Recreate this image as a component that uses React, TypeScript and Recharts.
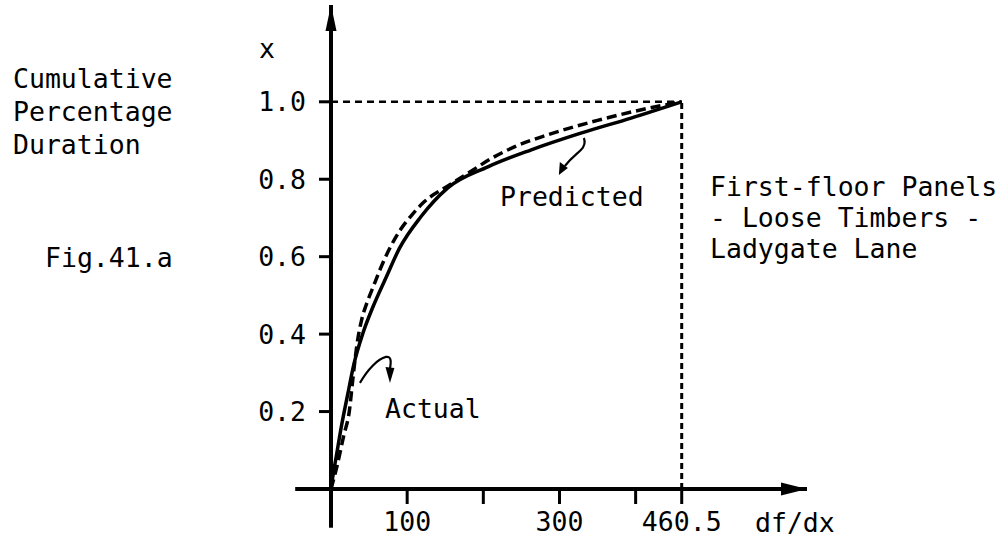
import React from 'react';
import { LineChart, Line, XAxis, YAxis, ReferenceLine, ReferenceDot } from 'recharts';

// ---- data ----
const predictedX = [0, 3, 7, 13, 22, 30, 42, 55, 72, 90, 118, 153, 206, 263, 328, 394, 460.5];
const predictedY = [0, 0.04, 0.085, 0.155, 0.245, 0.322, 0.403, 0.47, 0.545, 0.622, 0.703, 0.777, 0.832, 0.876, 0.919, 0.958, 1.0];

const actualX = [0, 8, 17, 24, 29, 35, 40, 47, 55, 64, 78, 92, 105, 122, 153, 185, 210, 240, 285, 350, 416, 460.5];
const actualY = [0, 0.06, 0.14, 0.2, 0.29, 0.385, 0.435, 0.48, 0.52, 0.565, 0.625, 0.672, 0.705, 0.741, 0.782, 0.822, 0.853, 0.883, 0.915, 0.952, 0.983, 1.0];

const xTicks = [100, 200, 300, 400, 460.5];
const xTickLabels = ['100', '', '300', '', '460.5'];
const yTicks = [0.2, 0.4, 0.6, 0.8, 1.0];
const yTickLabels = ['0.2', '0.4', '0.6', '0.8', '1.0'];

const xMax = 460.5;
const yMax = 1.0;

const titleLines = ['First-floor Panels', '- Loose Timbers -', 'Ladygate Lane'];
const yNameLines = ['Cumulative', 'Percentage', 'Duration'];
const figLabel = 'Fig.41.a';
const xName = 'df/dx';
const yName = 'x';
const predictedLabel = 'Predicted';
const actualLabel = 'Actual';

const predictedData = predictedX.map((x, i) => ({ x, y: predictedY[i] }));
const actualData = actualX.map((x, i) => ({ x, y: actualY[i] }));

const FONT = '"DejaVu Sans Mono", monospace';
const FS = 26.5;

const UpArrow = (props: any) => {
  const { cx, cy } = props;
  return <path d={`M ${cx} ${cy} L ${cx - 5.5} ${cy + 26} L ${cx + 5.5} ${cy + 26} Z`} fill="#000" />;
};
const RightArrow = (props: any) => {
  const { cx, cy } = props;
  return <path d={`M ${cx} ${cy} L ${cx - 26} ${cy - 6.5} L ${cx - 26} ${cy + 6.5} Z`} fill="#000" />;
};
const PredArrow = (props: any) => {
  const { cx, cy } = props;
  return (
    <g>
      <path d={`M ${cx} ${cy} C ${cx + 2} ${cy + 5}, ${cx} ${cy + 9}, ${cx - 3} ${cy + 12} C ${cx - 7} ${cy + 16}, ${cx - 12} ${cy + 19}, ${cx - 19} ${cy + 28}`} stroke="#000" strokeWidth={2.2} fill="none" />
      <path d={`M ${cx - 25} ${cy + 37} L ${cx - 24} ${cy + 24} L ${cx - 16} ${cy + 30} Z`} fill="#000" />
    </g>
  );
};
const ActArrow = (props: any) => {
  const { cx, cy } = props;
  return (
    <g>
      <path d={`M ${cx} ${cy} C ${cx + 8} ${cy - 14}, ${cx + 18} ${cy - 24}, ${cx + 26} ${cy - 26} C ${cx + 32} ${cy - 27}, ${cx + 31} ${cy - 20}, ${cx + 30} ${cy - 14}`} stroke="#000" strokeWidth={2.2} fill="none" />
      <path d={`M ${cx + 30} ${cy} L ${cx + 25.5} ${cy - 16} L ${cx + 34.5} ${cy - 15} Z`} fill="#000" />
    </g>
  );
};

export default function App() {
  return (
    <div style={{ position: 'absolute', left: 0, top: 0, width: 1006, height: 544, background: '#fff' }}>
      <LineChart
        width={1006}
        height={544}
        margin={{ top: 5, right: 199, bottom: 15, left: 0 }}
      >
        <XAxis
          type="number"
          dataKey="x"
          domain={[0, 625]}
          allowDataOverflow
          ticks={xTicks}
          interval={0}
          tickFormatter={(v: number) => xTickLabels[xTicks.indexOf(v)] ?? ''}
          axisLine={{ stroke: '#000', strokeWidth: 4 }}
          tickLine={{ stroke: '#000', strokeWidth: 3 }}
          tickSize={15}
          tickMargin={8}
          height={40}
          tick={{ fill: '#000', fontSize: FS, fontFamily: FONT }}
        />
        <YAxis
          type="number"
          dataKey="y"
          domain={[0, 1.25]}
          allowDataOverflow
          ticks={yTicks}
          interval={0}
          tickFormatter={(v: number) => yTickLabels[yTicks.indexOf(v)] ?? ''}
          axisLine={{ stroke: '#000', strokeWidth: 4 }}
          tickLine={{ stroke: '#000', strokeWidth: 3 }}
          tickSize={12}
          tickMargin={13}
          width={331}
          tick={{ fill: '#000', fontSize: FS, fontFamily: FONT }}
        />
        <ReferenceLine
          segment={[{ x: -47, y: 0 }, { x: 0, y: 0 }]}
          stroke="#000"
          strokeWidth={4}
          ifOverflow="visible"
        />
        <ReferenceLine
          segment={[{ x: 0, y: 0 }, { x: 0, y: -0.1 }]}
          stroke="#000"
          strokeWidth={4}
          ifOverflow="visible"
        />
        <ReferenceLine
          segment={[{ x: 0, y: yMax }, { x: xMax, y: yMax }]}
          stroke="#000"
          strokeWidth={2.5}
          strokeDasharray="7 5"
          ifOverflow="visible"
        />
        <ReferenceLine
          segment={[{ x: xMax, y: 0 }, { x: xMax, y: yMax }]}
          stroke="#000"
          strokeWidth={3}
          strokeDasharray="6 4"
          ifOverflow="visible"
        />
        <ReferenceDot x={0} y={1.25} r={0} ifOverflow="visible" shape={UpArrow} />
        <ReferenceDot x={625} y={0} r={0} ifOverflow="visible" shape={RightArrow} />
        <ReferenceDot x={332} y={0.9065} r={0} ifOverflow="visible" shape={PredArrow} />
        <ReferenceDot x={38} y={0.274} r={0} ifOverflow="visible" shape={ActArrow} />
        <Line
          data={predictedData}
          dataKey="y"
          type="monotone"
          stroke="#000"
          strokeWidth={3.5}
          dot={false}
          isAnimationActive={false}
        />
        <Line
          data={actualData}
          dataKey="y"
          type="monotone"
          stroke="#000"
          strokeWidth={3.5}
          strokeDasharray="10 5"
          dot={false}
          isAnimationActive={false}
        />
      </LineChart>
      <svg
        width={1006}
        height={544}
        style={{ position: 'absolute', left: 0, top: 0, pointerEvents: 'none' }}
        fontFamily={FONT}
        fontSize={FS}
        fill="#000"
      >
        <text x={267} y={58} textAnchor="middle">{yName}</text>
        {yNameLines.map((t, i) => (
          <text key={t} x={13} y={88 + i * 33}>{t}</text>
        ))}
        <text x={45} y={267}>{figLabel}</text>
        {titleLines.map((t, i) => (
          <text key={t} x={710} y={196 + i * 31} style={{ whiteSpace: 'pre' }}>{t}</text>
        ))}
        <text x={500} y={206}>{predictedLabel}</text>
        <text x={385} y={418}>{actualLabel}</text>
        <text x={755} y={532}>{xName}</text>
      </svg>
    </div>
  );
}
